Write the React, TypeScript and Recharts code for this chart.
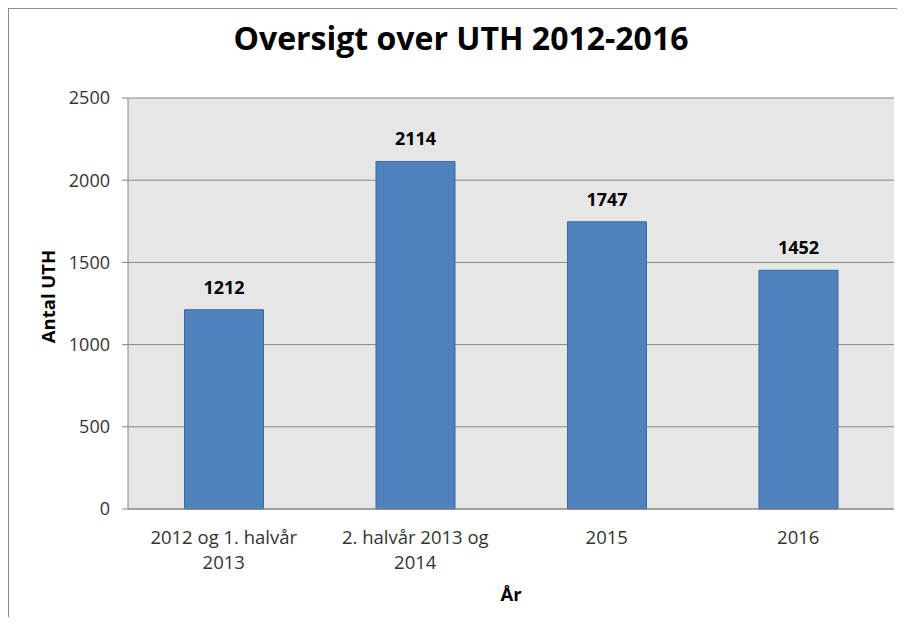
import { BarChart, Bar, XAxis, YAxis, CartesianGrid, LabelList, Label } from 'recharts'

const categories = ['2012 og 1. halvår\n2013', '2. halvår 2013 og\n2014', '2015', '2016']
const uthValues = [1212, 2114, 1747, 1452]
const yTicks = [0, 500, 1000, 1500, 2000, 2500]

const data = categories.map((name, i) => ({ name, value: uthValues[i] }))

const FONT = '"Open Sans", "Noto Sans", sans-serif'
const AXIS_GRAY = '#868686'

function CategoryTick(props: any) {
  const { x, y, payload } = props
  const lines = String(payload.value).split('\n')
  return (
    <text x={x} y={y} textAnchor="middle" fill="#333" fontSize={18.5} fontFamily={FONT}>
      {lines.map((line, i) => (
        <tspan key={i} x={x} dy={i === 0 ? 35 : 25}>
          {line}
        </tspan>
      ))}
    </text>
  )
}

function YTitle(props: any) {
  const { viewBox } = props
  const cx = 38
  const cy = viewBox.y + viewBox.height / 2 - 7
  return (
    <text
      x={cx}
      y={cy}
      transform={`rotate(-90, ${cx}, ${cy})`}
      textAnchor="middle"
      dominantBaseline="central"
      fontSize={18.5}
      fontWeight="bold"
      fontFamily={FONT}
      fill="#000"
    >
      Antal UTH
    </text>
  )
}

export default function App() {
  return (
    <div
      style={{
        position: 'relative',
        width: 888,
        height: 608,
        overflow: 'hidden',
        borderLeft: '1px solid #8c8c8c',
        borderTop: '1px solid #8c8c8c',
        fontFamily: FONT,
      }}
    >
      <style>{'html, body { background: #ffffff; overflow: hidden; }'}</style>
      <div
        style={{
          position: 'absolute',
          top: 13,
          left: 0,
          width: 888,
          boxSizing: 'border-box',
          paddingLeft: 16,
          textAlign: 'center',
          fontSize: 32,
          lineHeight: '32px',
          fontWeight: 'bold',
          color: '#000',
          whiteSpace: 'nowrap',
        }}
      >
        Oversigt over UTH 2012-2016
      </div>
      <BarChart
        width={888}
        height={608}
        data={data}
        margin={{ top: 89, right: 3, left: 0, bottom: 0 }}
        barCategoryGap="29.5%"
        accessibilityLayer={false}
        style={{ outline: 'none' }}
      >
        <CartesianGrid vertical={false} stroke={AXIS_GRAY} fill="#e6e6e6" fillOpacity={1} />
        <XAxis
          dataKey="name"
          height={108}
          tickLine={false}
          tickSize={0}
          tickMargin={0}
          axisLine={{ stroke: AXIS_GRAY }}
          tick={<CategoryTick />}
          interval={0}
        >
          <Label
            value="År"
            position="insideBottom"
            offset={16}
            fontSize={18.5}
            fontWeight="bold"
            fontFamily={FONT}
            fill="#000"
          />
        </XAxis>
        <YAxis
          width={119}
          domain={[0, 2500]}
          ticks={yTicks}
          interval={0}
          tickSize={6}
          tickMargin={12}
          axisLine={{ stroke: AXIS_GRAY }}
          tickLine={{ stroke: AXIS_GRAY }}
          tick={{ fill: '#333', fontSize: 18, fontFamily: FONT }}
        >
          <Label content={<YTitle />} />
        </YAxis>
        <Bar dataKey="value" fill="#4f81bd" stroke="#3b6a9f" strokeWidth={1} isAnimationActive={false}>
          <LabelList
            dataKey="value"
            position="top"
            offset={16}
            fill="#000"
            fontSize={18}
            fontWeight="bold"
            fontFamily={FONT}
          />
        </Bar>
      </BarChart>
    </div>
  )
}
